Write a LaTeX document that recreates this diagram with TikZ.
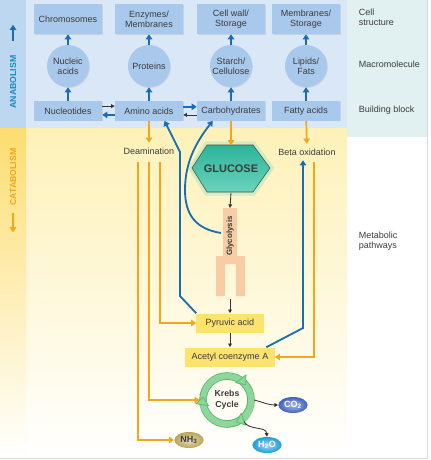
\documentclass[tikz,border=0pt]{standalone}
\usepackage{fontspec}
\setmainfont{Liberation Sans}
\usetikzlibrary{arrows.meta,shapes.geometric,shadows}
\definecolor{boite}{HTML}{A9C9EC}
\definecolor{fondbleu}{HTML}{D9E7F6}
\definecolor{fondcol}{HTML}{E1F0F0}
\definecolor{anabo}{HTML}{BED7F0}
\definecolor{jaunefond}{HTML}{FEF1B8}
\definecolor{cata}{HTML}{FDDD70}
\definecolor{orangecat}{HTML}{F1A71B}
\definecolor{bleufl}{HTML}{1A6DB5}
\definecolor{jaunebox}{HTML}{FCE36C}
\definecolor{peche}{HTML}{F8CCA5}
\definecolor{texte}{HTML}{3B3B3B}
\definecolor{vertanneau}{HTML}{8FD69C}
\definecolor{vertbord}{HTML}{58B96C}
\definecolor{vertlueur}{HTML}{B5E8C2}
\definecolor{tealh}{HTML}{2DB49A}
\definecolor{tealb}{HTML}{6AD3BC}
\definecolor{co2c}{HTML}{3F62BE}
\definecolor{h2oc}{HTML}{1C9CDB}
\definecolor{nh3c}{HTML}{B9A455}

\begin{document}
\begin{tikzpicture}[x=0.025cm,y=-0.025cm, % positions en pixels, y vers le bas
  font=\fontsize{6.4}{7.4}\selectfont, text=texte,
  boite/.style={fill=boite, minimum width=1.7cm, minimum height=0.75cm, align=center, inner sep=1pt,
    drop shadow={opacity=0.2,shadow xshift=0.6pt,shadow yshift=-0.6pt}},
  brique/.style={boite, minimum height=0.475cm},
  rond/.style={circle, fill=boite, minimum size=1.05cm, align=center, inner sep=0pt,
    drop shadow={opacity=0.2,shadow xshift=0.6pt,shadow yshift=-0.6pt}},
  jaune/.style={fill=jaunebox, minimum height=0.475cm, inner sep=1pt,
    drop shadow={opacity=0.2,shadow xshift=0.6pt,shadow yshift=-0.6pt}},
  bulle/.style={ellipse, minimum width=0.73cm, minimum height=0.4cm, inner sep=0pt,
    font=\fontsize{6.4}{7}\selectfont\bfseries},
  fb/.style={draw=bleufl, line width=1.3pt, -{Triangle[length=3.6pt,width=4.6pt]}},
  fo/.style={draw=orangecat, line width=1.2pt, -{Triangle[length=3.6pt,width=4.6pt]}},
  fn/.style={draw=black!80, line width=0.6pt, -{Triangle[length=2.6pt,width=2.6pt]}},
  anneau/.style={vertanneau, line width=4pt, -{Triangle[length=6pt,width=10pt,fill=vertanneau,color=vertbord,line width=0.5pt]}}]
\useasboundingbox (0,0) rectangle (430,460);

% fonds
\fill[fondbleu] (26,0) rectangle (347,128);
\shade[top color=jaunefond, bottom color=white] (26,128) rectangle (347,458);
\fill[fondcol] (347,0) rectangle (427,137);
\fill[anabo] (0,0) rectangle (26,128);
\shade[top color=cata, bottom color=white] (0,128) rectangle (26,458);
\draw[black!15] (427,0) -- (427,458) -- (0,458);

\node[rotate=90, font=\fontsize{6.2}{7}\selectfont\bfseries, text=bleufl!80!cyan] (anab) at (13,82) {ANABOLISM};
\draw[fb] ([yshift=7pt]anab.east) -- ++(0,-16);
\node[rotate=90, font=\fontsize{6.2}{7}\selectfont\bfseries, text=orangecat] (catab) at (13,177) {CATABOLISM};
\draw[fo] ([yshift=-2pt]catab.west) -- ++(0,19);

% colonne de droite
\node[anchor=west, align=left] (cellule) at (354,17) {Cell\\structure};
\node[anchor=west] (macro) at (354,64) {Macromolecule};
\node[anchor=west] (bloc) at (354,110) {Building block};
\node[anchor=west, align=left] (voies) at (354,241) {Metabolic\\pathways};

\node[boite] (chrom) at (68,19) {Chromosomes};
\node[boite] (enzy) at (149,19) {Enzymes/\\Membranes};
\node[boite] (paroi) at (231,19) {Cell wall/\\Storage};
\node[boite] (membr) at (306,19) {Membranes/\\Storage};
\node[rond] (nucl) at (68,66) {Nucleic\\acids};
\node[rond] (prot) at (149,66) {Proteins};
\node[rond] (amid) at (231,66) {Starch/\\Cellulose};
\node[rond] (lipi) at (306,66) {Lipids/\\Fats};
\node[brique] (nucleo) at (68,111) {Nucleotides};
\node[brique] (amino) at (149,111) {Amino acids};
\node[brique] (gluc) at (231,111) {Carbohydrates};
\node[brique] (gras) at (306,111) {Fatty acids};

\draw[fb] (nucl) -- (chrom);
\draw[fb] (prot) -- (enzy);
\draw[fb] (amid) -- (paroi);
\draw[fb] (lipi) -- (membr);
\draw[fb] (nucleo) -- (nucl);
\draw[fb] (amino) -- (prot);
\draw[fb] (gluc) -- (amid);
\draw[fb] (gras) -- (lipi);
\draw[fn] ([yshift=3.5pt]nucleo.east) -- ([yshift=3.5pt]amino.west);
\draw[fb] ([yshift=-2.8pt]amino.west) -- ([yshift=-2.8pt]nucleo.east);
\draw[fb] ([yshift=3pt]amino.east) -- ([yshift=3pt]gluc.west);
\draw[fn] ([yshift=-2.8pt]gluc.west) -- ([yshift=-2.8pt]amino.east);

% glucose et glycolyse
\draw[draw=black!70, top color=tealh, bottom color=tealb,
  preaction={draw=vertlueur, line width=5pt, opacity=0.6}]
  (192,168) -- (207,145) -- (253,145) -- (270,168) -- (253,192) -- (207,192) -- cycle;
\node[font=\fontsize{7.8}{9}\selectfont\bfseries, minimum width=1.95cm, minimum height=1.175cm, inner sep=0pt] (glucose) at (231,169) {GLUCOSE};
\fill[peche] (223,208) -- (237,208) -- (237,256) -- (245,256) -- (245,296) -- (236,296) -- (236,264)
  -- (225,264) -- (225,296) -- (216,296) -- (216,256) -- (223,256) -- cycle;
\node[rotate=90, font=\fontsize{5.6}{6}\selectfont\bfseries] (glyco) at (230,236) {Glycolysis};
\coordinate (glyh) at (230,208);
\coordinate (glyb) at (230,299);
\coordinate (glyg) at (221,233);

\node (deam) at (149,151) {Deamination};
\node (beta) at (307,152) {Beta oxidation};
\node[jaune, minimum width=1.675cm] (pyru) at (230,323) {Pyruvic acid};
\node[jaune, minimum width=2.225cm] (acetyl) at (230,357) {Acetyl coenzyme A};

\draw[fo] (amino) -- (deam);
\draw[fo] (gluc) -- (glucose.north);
\draw[fo] (gras) -- (beta);
\draw[fn] (glucose.south) -- (glyh);
\draw[fn] (glyb) -- (pyru.north);
\draw[fn] (pyru) -- (acetyl);

% cycle de Krebs
\node[circle, minimum size=1.35cm, align=center, font=\fontsize{6.2}{7.6}\selectfont\bfseries] (krebs) at (227,400) {Krebs\\Cycle};
\draw[vertbord, line width=5.4pt] (krebs.center) circle[radius=0.6cm];
\draw[vertanneau, line width=4pt] (krebs.center) circle[radius=0.6cm];
\draw[anneau] (krebs.center) ++(160:0.6cm) arc[start angle=160, end angle=38, radius=0.6cm];
\draw[anneau] (krebs.center) ++(20:0.6cm) arc[start angle=20, end angle=-68, radius=0.6cm];
\draw[anneau] (krebs.center) ++(-85:0.6cm) arc[start angle=-85, end angle=-188, radius=0.6cm];

\node[bulle, inner color=co2c!45!white, outer color=co2c, text=white] (co2) at (293,405) {CO\textsubscript{2}};
\node[bulle, inner color=h2oc!40!white, outer color=h2oc, text=white] (h2o) at (267,445) {H\textsubscript{2}O};
\node[bulle, inner color=nh3c!35!white, outer color=nh3c] (nh3) at (189,440) {NH\textsubscript{3}};
\draw[fn] (krebs.east) to[out=-15,in=180] (co2.west);
\draw[fn] (krebs.-52) to[out=-60,in=95] (h2o.north);

% voies orange
\coordinate (dA) at (138,162);
\coordinate (dB) at (149,162);
\coordinate (dC) at (160,162);
\coordinate (bA) at (314,162);
\draw[fo] (dC) |- (pyru.west);
\draw[fo] (dB) |- (krebs.west);
\draw[fo] (dA) |- (nh3.west);
\draw[fo] (bA) |- (acetyl.east);

% voies bleues
\coordinate (p1) at (180,296);
\coordinate (p2) at (180,152);
\coordinate (bB) at (303,328);
\draw[fb] (pyru.north west) -- (p1) -- (p2) -- ([xshift=11pt]amino.south);
\draw[fb] (glyg) .. controls (196,229) and (185,215) .. (185,190) .. controls (185,160) and (198,140) .. ([xshift=-13pt]gluc.south);
\draw[fb] ([xshift=-6pt]acetyl.north east) -- (bB) -- (bB |- beta.south);
\end{tikzpicture}
\end{document}
